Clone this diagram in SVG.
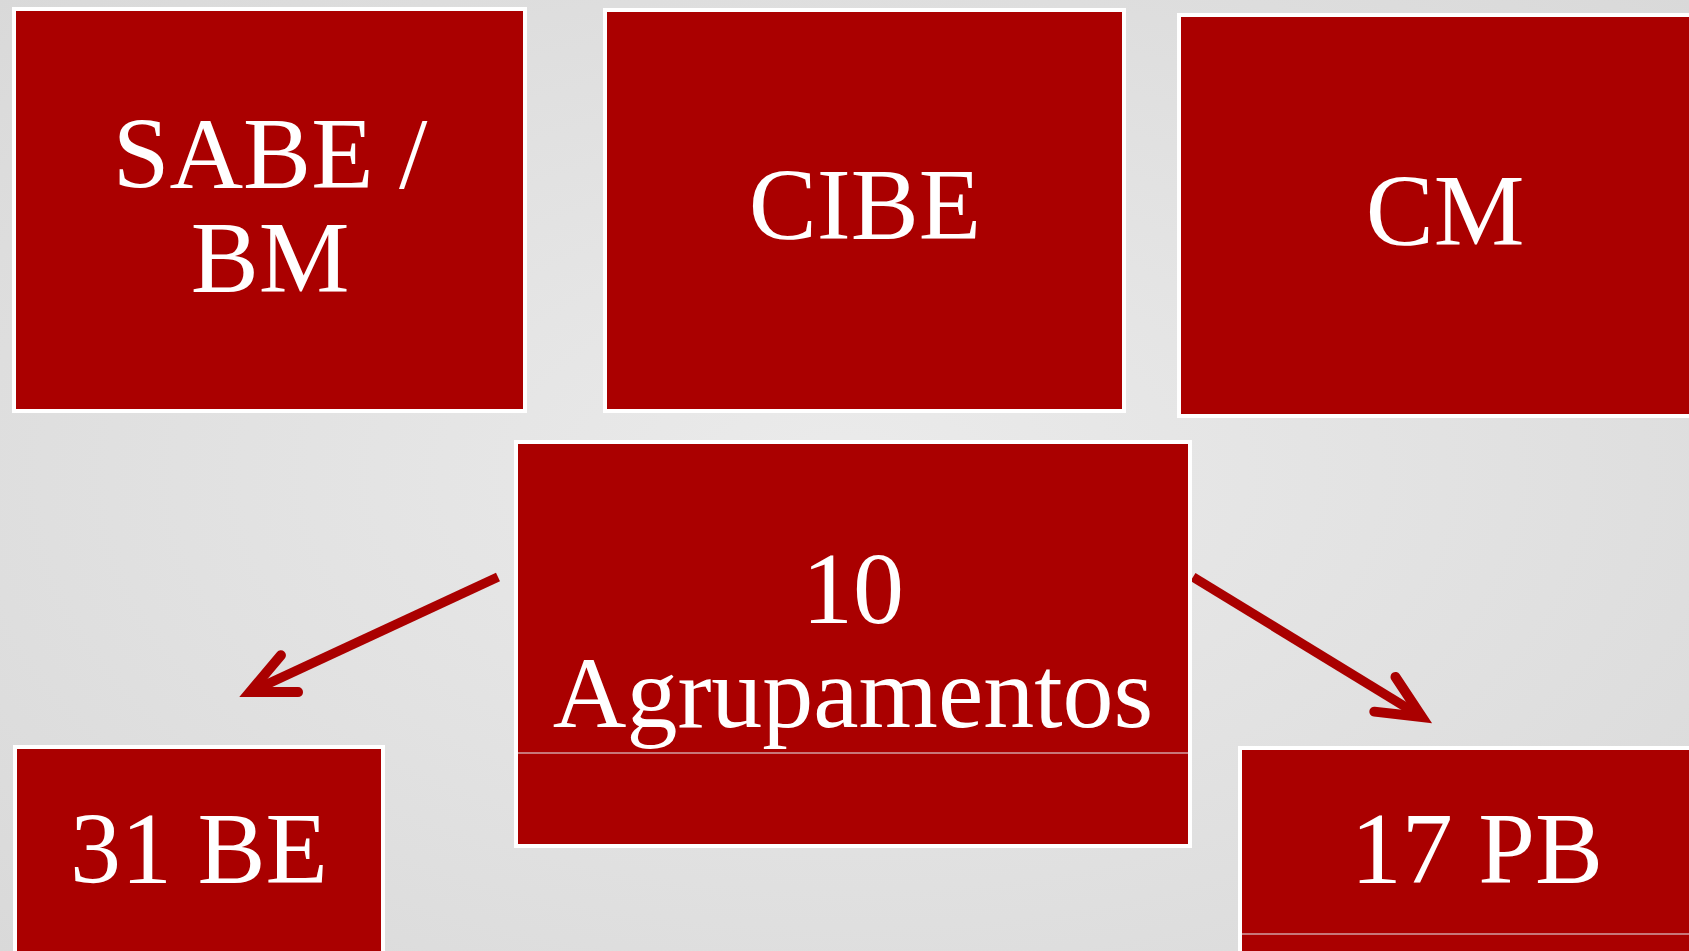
<svg xmlns="http://www.w3.org/2000/svg" width="1689" height="951" viewBox="0 0 1689 951">
<style>
.box{fill:#aa0000;stroke:#ffffff;stroke-width:4}
.lbl{font-family:"Liberation Serif","Times New Roman",serif;font-size:102px;fill:#ffffff;text-anchor:middle}
.sep{stroke:#e6ecf2;stroke-width:1.2}
.conn{fill:none;stroke:#aa0000;stroke-width:9.5;stroke-linecap:butt}
</style>
<defs>
<radialGradient id="bg" cx="50%" cy="50%" r="75%">
<stop offset="0" stop-color="#ebebeb"/>
<stop offset="1" stop-color="#d8d8d8"/>
</radialGradient>
<marker id="arr" markerUnits="userSpaceOnUse" orient="auto" refX="0" refY="0" markerWidth="120" markerHeight="120" viewBox="-60 -60 120 120" overflow="visible">
<path d="M-43.5,-20.3 L0,0 L-43.5,20.3" fill="none" stroke="#aa0000" stroke-width="10" stroke-linecap="round" stroke-linejoin="miter" stroke-miterlimit="10"/>
</marker>
</defs>
<rect x="0" y="0" width="1689" height="951" fill="url(#bg)"/>
<g id="connectors">
<line class="conn" x1="498" y1="577" x2="250" y2="692" marker-end="url(#arr)"/>
<line class="conn" x1="1193" y1="577" x2="1422" y2="717" marker-end="url(#arr)"/>
</g>
<g id="sabe">
<rect class="box" x="14" y="9" width="511" height="402"/>
<text class="lbl" x="270" y="188">SABE /</text>
<text class="lbl" x="270" y="292">BM</text>
</g>
<g id="cibe">
<rect class="box" x="605" y="10" width="519" height="401"/>
<text class="lbl" x="865" y="239">CIBE</text>
</g>
<g id="cm">
<rect class="box" x="1179" y="15" width="540" height="401"/>
<text class="lbl" x="1445" y="245">CM</text>
</g>
<g id="agrupamentos">
<rect class="box" x="516" y="442" width="674" height="404"/>
<text class="lbl" x="853" y="623">10</text>
<text class="lbl" x="853" y="727">Agrupamentos</text>
<line class="sep" x1="518" y1="753" x2="1188" y2="753"/>
</g>
<g id="be">
<rect class="box" x="15" y="747" width="368" height="300"/>
<text class="lbl" x="199" y="883">31 BE</text>
</g>
<g id="pb">
<rect class="box" x="1240" y="748" width="500" height="300"/>
<text class="lbl" x="1477" y="883">17 PB</text>
<line class="sep" x1="1242" y1="934" x2="1689" y2="934"/>
</g>
</svg>
